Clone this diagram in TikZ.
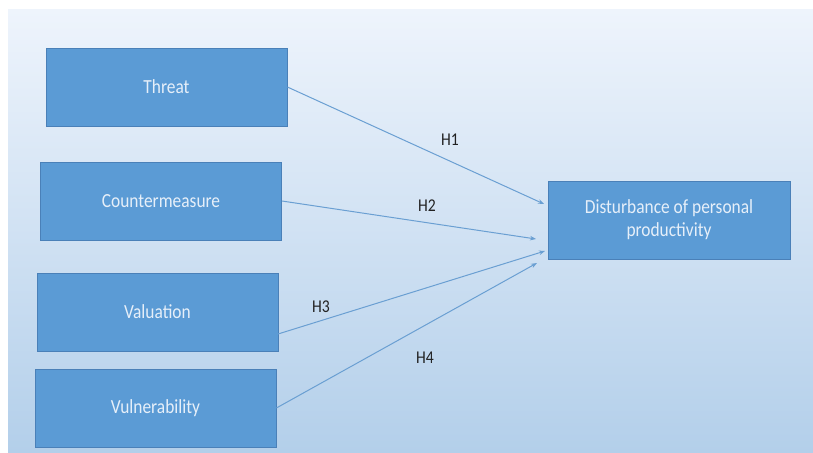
\documentclass[tikz,border=0pt]{standalone}
\usepackage{fontspec}
\setmainfont{Carlito}
\usepackage{graphicx}
\usetikzlibrary{arrows.meta}
\definecolor{boxfill}{HTML}{5B9BD5}
\definecolor{boxline}{HTML}{4A80B8}
\definecolor{boxtext}{HTML}{E6EFF9}
\definecolor{bgtop}{HTML}{EEF4FC}
\definecolor{bgbot}{HTML}{B3CFEA}
\definecolor{arr}{HTML}{6A9FD2}
\definecolor{lbl}{HTML}{222222}
\newcommand{\sq}[1]{\scalebox{0.87}[1]{#1}}
\tikzset{
  varbox/.style={draw=boxline, line width=0.8pt, fill=boxfill, text=boxtext,
    minimum width=241pt, minimum height=78pt, inner sep=0pt, align=center,
    font=\fontsize{20}{23}\selectfont},
  hyp/.style={draw=arr, line width=1pt, -{Stealth[length=6pt,width=4.5pt]}},
  hlabel/.style={text=lbl, font=\fontsize{18}{20}\selectfont, inner sep=0pt}
}
\begin{document}
\begin{tikzpicture}[x=1pt,y=-1pt]
\useasboundingbox (0,0) rectangle (813,452);
\fill[white] (0,0) rectangle (813,452);
\shade[top color=bgtop, bottom color=bgbot] (8,10) rectangle (813,452);

\node[varbox] (thr) at (166.5,87) {\sq{Threat}};
\node[varbox] (cm) at (161,201) {\sq{Countermeasure}};
\node[varbox] (val) at (157.5,312) {\sq{Valuation}};
\node[varbox] (vul) at (155.5,408) {\sq{Vulnerability}};
\node[varbox, minimum width=242pt] (dist) at (669,220) {\sq{Disturbance of personal}\\\sq{productivity}};

\coordinate (t1) at (544,204);
\coordinate (t2) at (536,239);
\coordinate (t3) at (545,251);
\coordinate (t4) at (537,263);
\coordinate (s3) at (278,334);

\draw[hyp] (thr.east) -- (t1);
\draw[hyp] (cm.east) -- (t2);
\draw[hyp] (s3) -- (t3);
\draw[hyp] (vul.east) -- (t4);

\node[hlabel] (h1) at (450,140) {\sq{H1}};
\node[hlabel] (h2) at (427,206) {\sq{H2}};
\node[hlabel] (h3) at (321,307) {\sq{H3}};
\node[hlabel] (h4) at (425,358) {\sq{H4}};
\end{tikzpicture}
\end{document}
